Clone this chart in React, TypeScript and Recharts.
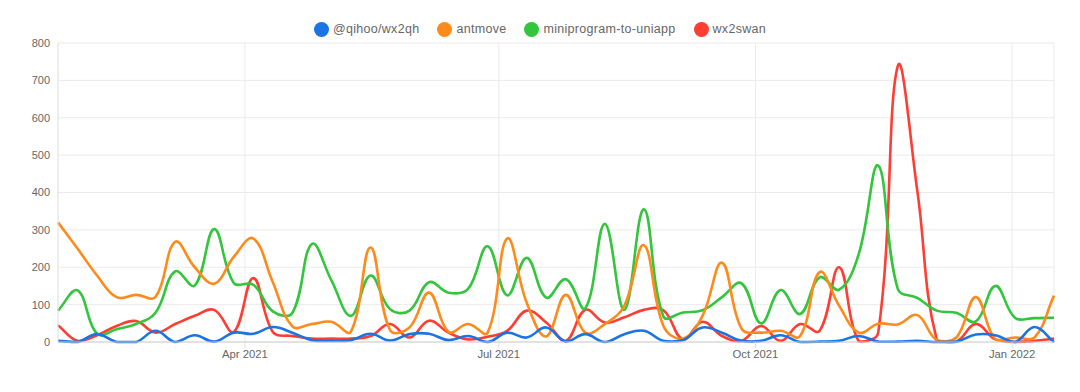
import React from 'react'
import { LineChart, Line, XAxis, YAxis, CartesianGrid } from 'recharts'

const weeks = [
  '2021-01-24', '2021-01-31', '2021-02-07', '2021-02-14', '2021-02-21', '2021-02-28',
  '2021-03-07', '2021-03-14', '2021-03-21', '2021-03-28', '2021-04-04', '2021-04-11',
  '2021-04-18', '2021-04-25', '2021-05-02', '2021-05-09', '2021-05-16', '2021-05-23',
  '2021-05-30', '2021-06-06', '2021-06-13', '2021-06-20', '2021-06-27', '2021-07-04',
  '2021-07-11', '2021-07-18', '2021-07-25', '2021-08-01', '2021-08-08', '2021-08-15',
  '2021-08-22', '2021-08-29', '2021-09-05', '2021-09-12', '2021-09-19', '2021-09-26',
  '2021-10-03', '2021-10-10', '2021-10-17', '2021-10-24', '2021-10-31', '2021-11-07',
  '2021-11-14', '2021-11-21', '2021-11-28', '2021-12-05', '2021-12-12', '2021-12-19',
  '2021-12-26', '2022-01-02', '2022-01-09', '2022-01-16',
]

const wx2qh = [
  3, 0, 21, 0, 0, 30, 0, 18, 1, 25, 22, 40, 25, 5, 3, 5, 22, 4, 21, 22, 5, 16, 0, 25, 12, 39,
  1, 21, 0, 21, 30, 3, 5, 39, 25, 3, 3, 18, 0, 1, 3, 16, 1, 1, 3, 0, 1, 20, 18, 0, 40, 0,
]
const antmove = [
  320, 250, 178, 120, 126, 121, 268, 200, 156, 228, 277, 160, 42, 48, 54, 28, 253, 32, 39, 132,
  27, 48, 25, 277, 105, 15, 126, 25, 48, 97, 259, 43, 9, 70, 212, 36, 25, 30, 16, 187, 97, 25,
  49, 47, 72, 5, 12, 120, 7, 12, 12, 124,
]
const uniapp = [
  84, 138, 22, 34, 48, 79, 189, 151, 302, 158, 153, 82, 78, 262, 165, 70, 178, 88, 84, 160, 132,
  142, 256, 125, 225, 119, 168, 90, 316, 86, 355, 68, 79, 85, 120, 157, 50, 139, 75, 173, 140,
  235, 472, 142, 118, 84, 78, 55, 150, 65, 64, 65,
]
const wx2swan = [
  45, 3, 18, 43, 56, 25, 48, 70, 86, 27, 171, 27, 16, 9, 9, 9, 16, 48, 12, 57, 25, 7, 14, 30, 84,
  52, 3, 86, 52, 66, 86, 85, 7, 54, 16, 3, 43, 3, 48, 30, 200, 2, 25, 738, 405, 5, 1, 48, 7, 0,
  3, 9,
]

const yTicks = [0, 100, 200, 300, 400, 500, 600, 700, 800]
const xTickDates = ['2021-04-01', '2021-07-01', '2021-10-01', '2022-01-01']
const monthNames = ['Jan', 'Feb', 'Mar', 'Apr', 'May', 'Jun', 'Jul', 'Aug', 'Sep', 'Oct', 'Nov', 'Dec']

const series = [
  { key: 'wx2qh', name: '@qihoo/wx2qh', color: '#1a74e2', values: wx2qh },
  { key: 'antmove', name: 'antmove', color: '#ff8a1c', values: antmove },
  { key: 'uniapp', name: 'miniprogram-to-uniapp', color: '#33c63c', values: uniapp },
  { key: 'wx2swan', name: 'wx2swan', color: '#ff3d33', values: wx2swan },
]

const toTime = (s: string) => Date.parse(s + 'T00:00:00Z')

const data = weeks.map((w, i) => {
  const row: Record<string, number> = { t: toTime(w) }
  series.forEach((s) => { row[s.key] = s.values[i] })
  return row
})

const W = 1080
const H = 392
const TOP = 43
const X_AXIS_H = 50
const FONT = '"Liberation Sans", Arial, Helvetica, sans-serif'

// spline like chart.js (tension 0.4), control points kept inside the plot
function splineCurve(top: number, bottom: number, tension = 0.4) {
  return (ctx: any) => {
    let pts: number[][] = []
    return {
      areaStart() {},
      areaEnd() {},
      lineStart() { pts = [] },
      point(x: number, y: number) { pts.push([+x, +y]) },
      lineEnd() {
        const n = pts.length
        if (!n) return
        const clampY = (v: number) => Math.min(bottom, Math.max(top, v))
        const cps = pts.map((p, i) => {
          const prev = pts[i - 1] ?? p
          const next = pts[i + 1] ?? p
          const d01 = Math.hypot(p[0] - prev[0], p[1] - prev[1])
          const d12 = Math.hypot(next[0] - p[0], next[1] - p[1])
          const sum = d01 + d12
          const fa = sum ? (tension * d01) / sum : 0
          const fb = sum ? (tension * d12) / sum : 0
          const dx = next[0] - prev[0]
          const dy = next[1] - prev[1]
          return {
            px: p[0] - fa * dx, py: clampY(p[1] - fa * dy),
            nx: p[0] + fb * dx, ny: clampY(p[1] + fb * dy),
          }
        })
        ctx.moveTo(pts[0][0], pts[0][1])
        for (let i = 1; i < n; i++) {
          ctx.bezierCurveTo(cps[i - 1].nx, cps[i - 1].ny, cps[i].px, cps[i].py, pts[i][0], pts[i][1])
        }
      },
    }
  }
}

const curve = splineCurve(TOP, H - X_AXIS_H)

function formatMonth(t: number) {
  const d = new Date(t)
  return `${monthNames[d.getUTCMonth()]} ${d.getUTCFullYear()}`
}

export default function App() {
  return (
    <div style={{ position: 'absolute', left: 0, top: 0, width: W, height: H, background: '#fff', fontFamily: FONT }}>
      {/* legend */}
      <div
        style={{
          position: 'absolute', top: 21, left: 0, width: W, display: 'flex',
          justifyContent: 'center', gap: 18, fontSize: 12.5, color: '#666', lineHeight: '16px',
        }}
      >
        {series.map((s) => (
          <div key={s.key} style={{ display: 'flex', alignItems: 'center', gap: 4 }}>
            <span style={{ width: 15, height: 15, borderRadius: '50%', background: s.color, display: 'inline-block' }} />
            <span style={{ letterSpacing: 0.3 }}>{s.name}</span>
          </div>
        ))}
      </div>

      <LineChart width={W} height={H} data={data} margin={{ top: TOP, right: 26, bottom: 0, left: 0 }}>
        <CartesianGrid stroke="#ebebeb" strokeWidth={1} />
        <XAxis
          dataKey="t"
          type="number"
          scale="time"
          domain={[toTime(weeks[0]), toTime(weeks[weeks.length - 1])]}
          ticks={xTickDates.map(toTime)}
          tickFormatter={formatMonth}
          height={X_AXIS_H}
          tick={{ fill: '#666', fontSize: 11.3, fontFamily: FONT }}
          axisLine={{ stroke: '#cfcfcf' }}
          tickLine={{ stroke: '#e0e0e0' }}
          tickSize={6}
        />
        <YAxis
          domain={[0, 800]}
          ticks={yTicks}
          width={58}
          tick={{ fill: '#666', fontSize: 11, fontFamily: FONT }}
          axisLine={{ stroke: '#e6e6e6' }}
          tickLine={false}
        />
        {[...series].reverse().map((s) => (
          <Line
            key={s.key}
            dataKey={s.key}
            name={s.name}
            type={curve as any}
            stroke={s.color}
            strokeWidth={2.6}
            dot={false}
            activeDot={false}
            isAnimationActive={false}
          />
        ))}
      </LineChart>
    </div>
  )
}
